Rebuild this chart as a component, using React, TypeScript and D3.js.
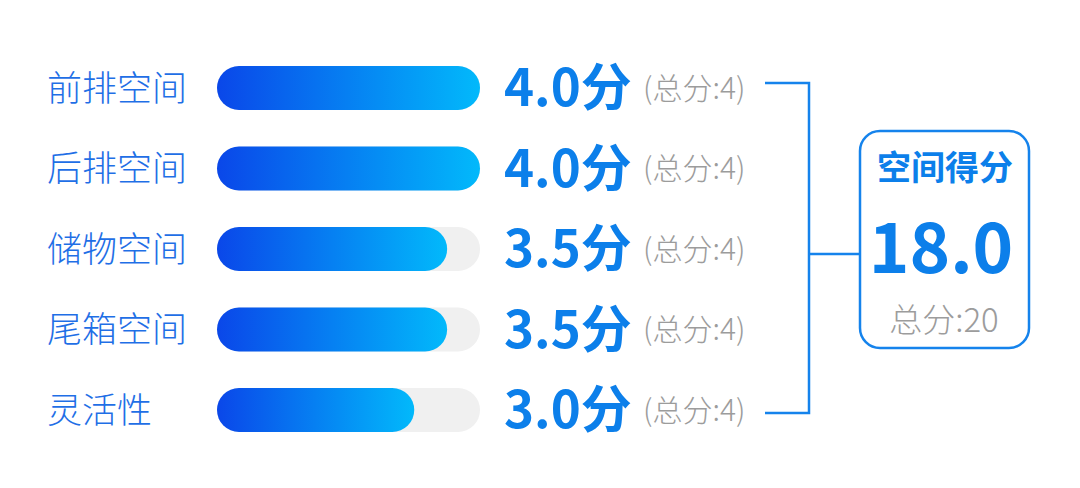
import React from "react";
import * as d3 from "d3";

const categories = ["前排空间", "后排空间", "储物空间", "尾箱空间", "灵活性"];
const scores = [4.0, 4.0, 3.5, 3.5, 3.0];
const maxScores = [4, 4, 4, 4, 4];
const totalTitle = "空间得分";
const totalScore = 18.0;
const totalMax = 20;

const W = 1080;
const H = 488;
const FONT = "'Noto Sans CJK SC', 'Noto Sans', sans-serif";

export default function App() {
  const y = d3.scalePoint<string>().domain(categories).range([88, 410]);
  const x = d3.scaleLinear().domain([0, 4]).range([217, 480]);
  const barH = 44;
  const bracketX = 809;
  const boxX = 860, boxY = 131, boxW = 169, boxH = 217;

  return (
    <svg width={W} height={H} style={{ position: "absolute", left: 0, top: 0, background: "#fff" }} fontFamily={FONT}>
      {categories.map((c, i) => {
        const cy = y(c)!;
        const x0 = x(0);
        const fw = x(scores[i]) - x0;
        const gid = `g${i}`;
        return (
          <g key={c}>
            <defs>
              <linearGradient id={gid} gradientUnits="userSpaceOnUse" x1={x0} x2={x0 + fw} y1={0} y2={0}>
                <stop offset="0%" stopColor="#0a47e9" />
                <stop offset="100%" stopColor="#02b9fb" />
              </linearGradient>
            </defs>
            <text x={47} y={cy} dy="0.36em" fontSize={35} fontWeight={300} fill="#1f6fe6">{c}</text>
            <rect x={x0} y={cy - barH / 2} width={x(maxScores[i]) - x0} height={barH} rx={barH / 2} fill="#f0f0f0" />
            <rect x={x0} y={cy - barH / 2} width={fw} height={barH} rx={barH / 2} fill={`url(#${gid})`} />
            <text x={504} y={cy} dy="0.36em" fontSize={51} fontWeight={700} fill="#0c7fea">
              {scores[i].toFixed(1)}分
            </text>
            <text x={643} y={cy} dy="0.36em" fontSize={30} fontWeight={300} fill="#9c9c9c">(总分:{maxScores[i]})</text>
          </g>
        );
      })}
      <path
        d={`M765,${y(categories[0])! - 5}H${bracketX}V${y(categories[categories.length - 1])! + 3}H765`}
        fill="none" stroke="#1583ec" strokeWidth={2.5}
      />
      <line x1={bracketX} x2={boxX} y1={254} y2={254} stroke="#1583ec" strokeWidth={2.5} />
      <rect x={boxX} y={boxY} width={boxW} height={boxH} rx={20} fill="#fff" stroke="#1583ec" strokeWidth={2.5} />
      <text x={945} y={168} dy="0.36em" textAnchor="middle" fontSize={34} fontWeight={700} fill="#0c7fea">{totalTitle}</text>
      <text x={941} y={273} textAnchor="middle" fontSize={69} fontWeight={700} fill="#0c7fea">{totalScore.toFixed(1)}</text>
      <text x={944} y={320} dy="0.36em" textAnchor="middle" fontSize={33} fontWeight={300} fill="#9c9c9c">总分:{totalMax}</text>
    </svg>
  );
}
